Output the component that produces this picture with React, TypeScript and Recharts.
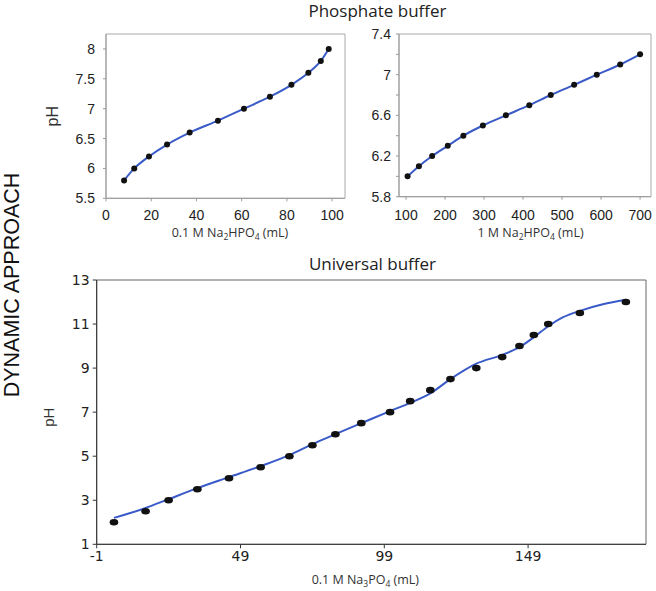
import React from 'react';
import { ScatterChart, Scatter, XAxis, YAxis, ReferenceArea } from 'recharts';

// ---- Phosphate buffer: 0.1 M Na2HPO4 (mL) vs pH
const phosAX = [8, 12.5, 19, 27, 37, 49.5, 61, 72.5, 82, 89.5, 95, 98.5];
const phosAY = [5.8, 6.0, 6.2, 6.4, 6.6, 6.8, 7.0, 7.2, 7.4, 7.6, 7.8, 8.0];
const phosAXTicks = [0, 20, 40, 60, 80, 100];
const phosAYTicks = [5.5, 6, 6.5, 7, 7.5, 8];

// ---- Phosphate buffer: 1 M Na2HPO4 (mL) vs pH
const phosBX = [104, 133, 167, 207, 247, 297, 356, 416, 471, 531, 589, 649, 700];
const phosBY = [6.0, 6.1, 6.2, 6.3, 6.4, 6.5, 6.6, 6.7, 6.8, 6.9, 7.0, 7.1, 7.2];
const phosBXTicks = [100, 200, 300, 400, 500, 600, 700];
const phosBYTicks = [5.8, 6.0, 6.2, 6.4, 6.6, 6.8, 7.0, 7.2, 7.4];
const phosBYLabels = [5.8, 6.2, 6.6, 7, 7.4];

// ---- Universal buffer: 0.1 M Na3PO4 (mL) vs pH (points)
const uniX = [5, 16, 24, 34, 45, 56, 66, 74, 82, 91, 101, 108, 115, 122, 131, 140, 146, 151, 156, 167, 183];
const uniY = [2, 2.5, 3, 3.5, 4, 4.5, 5, 5.5, 6, 6.5, 7, 7.5, 8, 8.5, 9, 9.5, 10, 10.5, 11, 11.5, 12];
// fitted curve
const uniFitX = [5, 16, 24, 34, 45, 56, 66, 74, 82, 91, 101, 108, 115, 122, 131, 140, 146, 151, 156, 161, 167, 175, 183];
const uniFitY = [2.2, 2.65, 3.05, 3.55, 4.05, 4.55, 5.05, 5.55, 6.0, 6.5, 7.05, 7.42, 7.85, 8.5, 9.2, 9.6, 9.95, 10.4, 10.9, 11.3, 11.6, 11.9, 12.1];
const uniXTicks = [-1, 49, 99, 149];
const uniYTicks = [1, 3, 5, 7, 9, 11, 13];

// ---- texts
const mainTitle = 'Phosphate buffer';
const bottomTitle = 'Universal buffer';
const sideTitle = 'DYNAMIC APPROACH';
const yTitle = 'pH';
const xTitleA = [{ t: '0.1 M Na' }, { t: '2', sub: true }, { t: 'HPO' }, { t: '4', sub: true }, { t: ' (mL)' }];
const xTitleB = [{ t: '1 M Na' }, { t: '2', sub: true }, { t: 'HPO' }, { t: '4', sub: true }, { t: ' (mL)' }];
const xTitleC = [{ t: '0.1 M Na' }, { t: '3', sub: true }, { t: 'PO' }, { t: '4', sub: true }, { t: ' (mL)' }];

const zip = (xs: number[], ys: number[]) => xs.map((x, i) => ({ x, y: ys[i] }));

const BLUE = '#3a5bc7';
const DOT = '#111';

const SubTitle = (props: any) => {
  const { viewBox, parts, dx = 0, dy = 0, fontSize = 12.5 } = props;
  const vb = viewBox || { x: 0, y: 0, width: 0, height: 0 };
  const cx = vb.x + vb.width / 2 + dx;
  const cy = vb.y + dy;
  return (
    <text x={cx} y={cy} textAnchor="middle" fontFamily="Open Sans" fontSize={fontSize} fill="#333">
      {parts.map((p: any, i: number) =>
        p.sub ? (
          <tspan key={i} fontSize={fontSize * 0.68} dy={3}>{p.t}</tspan>
        ) : (
          <tspan key={i} dy={i > 0 && parts[i - 1].sub ? -3 : 0}>{p.t}</tspan>
        )
      )}
    </text>
  );
};

const YTitle = (props: any) => {
  const { viewBox, text, dx = 0, dy = 0, fontSize = 15 } = props;
  const vb = viewBox || { x: 0, y: 0, width: 0, height: 0 };
  const cx = vb.x + dx;
  const cy = vb.y + vb.height / 2 + dy;
  return (
    <text x={cx} y={cy} textAnchor="middle" dominantBaseline="central" fontFamily="Liberation Sans" fontSize={fontSize} fill="#333" transform={`rotate(-90 ${cx} ${cy})`}>
      {text}
    </text>
  );
};

const smallDot = (p: any) => <circle cx={p.cx} cy={p.cy} r={3} fill={DOT} />;
const bigDot = (p: any) => <ellipse cx={p.cx} cy={p.cy} rx={4.3} ry={3.3} fill={DOT} />;
const noDot = () => <g />;

const topTick = { fontFamily: 'Liberation Sans', fontSize: 14, fill: '#222' };
const botTick = { fontFamily: 'DejaVu Sans', fontSize: 14, fill: '#222' };

export default function App() {
  return (
    <div style={{ position: 'absolute', left: 0, top: 0, width: 656, height: 591, background: '#fff' }}>
      {/* Top-left */}
      <div style={{ position: 'absolute', left: 0, top: 0 }}>
        <ScatterChart width={360} height={252} margin={{ top: 34, right: 15, bottom: 23.7, left: 66 }}>
          <XAxis type="number" dataKey="x" domain={[0, 105.7]} ticks={phosAXTicks} height={30}
            tick={topTick} tickSize={3} tickMargin={9} axisLine={{ stroke: '#999' }} tickLine={{ stroke: '#999' }}
            label={<SubTitle parts={xTitleA} dx={4.5} dy={38.5} />} />
          <YAxis type="number" dataKey="y" domain={[5.5, 8.25]} ticks={phosAYTicks} width={40}
            tick={topTick} tickSize={3} tickMargin={8} axisLine={{ stroke: '#999' }} tickLine={{ stroke: '#999' }}
            label={<YTitle text={yTitle} dx={-13.5} fontSize={16} />} />
          <ReferenceArea x1={0} x2={105.7} y1={5.5} y2={8.25} fill="none" stroke="#aaa" strokeWidth={1} />
          <Scatter data={zip(phosAX, phosAY)} line={{ stroke: BLUE, strokeWidth: 2 }} lineJointType="monotoneX"
            shape={smallDot} isAnimationActive={false} />
        </ScatterChart>
      </div>

      {/* Top-right */}
      <div style={{ position: 'absolute', left: 340, top: 0 }}>
        <ScatterChart width={316} height={252} margin={{ top: 34, right: 5, bottom: 25.3, left: 19 }}>
          <XAxis type="number" dataKey="x" domain={[82, 728]} ticks={phosBXTicks} height={30}
            tick={topTick} tickSize={3} tickMargin={10} axisLine={{ stroke: '#999' }} tickLine={{ stroke: '#999' }}
            label={<SubTitle parts={xTitleB} dx={5.5} dy={40} />} />
          <YAxis type="number" dataKey="y" domain={[5.8, 7.4]} ticks={phosBYTicks} width={40}
            tick={topTick} tickSize={3} tickMargin={5} axisLine={{ stroke: '#999' }} tickLine={{ stroke: '#999' }}
            tickFormatter={(v: number) => (phosBYLabels.some((l) => Math.abs(l - v) < 1e-6) ? String(Math.round(v * 10) / 10) : '')} />
          <ReferenceArea x1={82} x2={728} y1={5.8} y2={7.4} fill="none" stroke="#aaa" strokeWidth={1} />
          <Scatter data={zip(phosBX, phosBY)} line={{ stroke: BLUE, strokeWidth: 2 }} lineJointType="monotoneX"
            shape={smallDot} isAnimationActive={false} />
        </ScatterChart>
      </div>

      {/* Bottom */}
      <div style={{ position: 'absolute', left: 0, top: 250 }}>
        <ScatterChart width={656} height={341} margin={{ top: 30, right: 10, bottom: 16.7, left: 56.7 }}>
          <XAxis type="number" dataKey="x" domain={[-1, 190]} ticks={uniXTicks} height={30}
            tick={botTick} tickSize={4} tickMargin={3} axisLine={{ stroke: '#333' }} tickLine={{ stroke: '#333' }}
            label={<SubTitle parts={xTitleC} dx={-6} dy={40} />} />
          <YAxis type="number" dataKey="y" domain={[1, 13]} ticks={uniYTicks} width={40}
            tick={botTick} tickSize={4} tickMargin={3} axisLine={{ stroke: '#333' }} tickLine={{ stroke: '#333' }}
            label={<YTitle text={yTitle} dx={-7.7} dy={5} fontSize={15} />} />
          <ReferenceArea x1={-1} x2={190} y1={1} y2={13} fill="none" stroke="#666" strokeWidth={1} />
          <Scatter data={zip(uniFitX, uniFitY)} line={{ stroke: BLUE, strokeWidth: 2 }} lineJointType="monotoneX"
            shape={noDot} isAnimationActive={false} />
          <Scatter data={zip(uniX, uniY)} shape={bigDot} isAnimationActive={false} />
        </ScatterChart>
      </div>

      {/* Titles */}
      <svg width={656} height={591} style={{ position: 'absolute', left: 0, top: 0, pointerEvents: 'none' }}>
        <text x={377.5} y={17} textAnchor="middle" fontFamily="Open Sans" fontSize={17} fill="#222">{mainTitle}</text>
        <text x={372.5} y={270} textAnchor="middle" fontFamily="Open Sans" fontSize={17} fill="#222">{bottomTitle}</text>
        <text x={12} y={285} textAnchor="middle" dominantBaseline="central" fontFamily="Liberation Sans" fontSize={21.5} fill="#111"
          transform="rotate(-90 12 285)">{sideTitle}</text>
      </svg>
    </div>
  );
}
